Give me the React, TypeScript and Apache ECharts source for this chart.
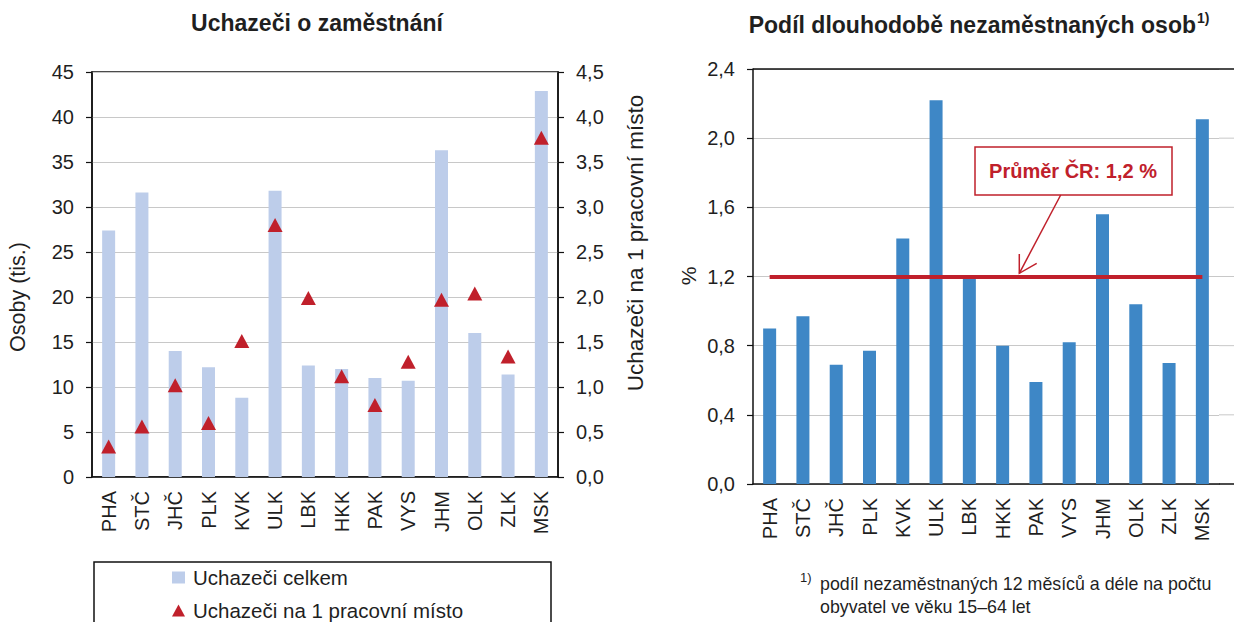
import React, { useEffect, useRef } from "react";
import * as echarts from "echarts";

const categories = ["PHA", "STČ", "JHČ", "PLK", "KVK", "ULK", "LBK", "HKK", "PAK", "VYS", "JHM", "OLK", "ZLK", "MSK"];
const uchazeciCelkem = [27.4, 31.6, 14.0, 12.2, 8.8, 31.8, 12.4, 12.0, 11.0, 10.7, 36.3, 16.0, 11.4, 42.9];
const uchazeciNaMisto = [0.34, 0.56, 1.02, 0.6, 1.51, 2.8, 1.99, 1.12, 0.8, 1.28, 1.97, 2.04, 1.34, 3.77];
const podilDlouhodobe = [0.9, 0.97, 0.69, 0.77, 1.42, 2.22, 1.2, 0.8, 0.59, 0.82, 1.56, 1.04, 0.7, 2.11];
const prumerCR = 1.2;
const rightTicks = [0.4, 0.8, 1.2, 1.6, 2.0, 2.4];

const FONT = "'Liberation Sans', Arial, sans-serif";
const TXT = "#1f1f1f";
const RED = "#c0202b";
const comma1 = (v: number) => v.toFixed(1).replace(".", ",");

export default function App() {
  const ref = useRef<HTMLDivElement>(null);
  useEffect(() => {
    document.body.style.margin = "0";
    const chart = echarts.init(ref.current!, undefined, { renderer: "svg" });
    const axisLine = { show: true, lineStyle: { color: "#111", width: 1.5 } };
    const tick = { show: true, length: 6, lineStyle: { color: "#111", width: 1.2 } };
    const lbl = { color: TXT, fontSize: 20, fontFamily: FONT, margin: 18 };
    const option: any = {
      animation: false,
      textStyle: { fontFamily: FONT },
      grid: [
        { left: 92, top: 72, width: 466, height: 405, show: true, borderColor: "#111", borderWidth: 1.5, backgroundColor: "transparent" },
        { left: 753, top: 69, width: 466, height: 415 },
      ],
      legend: {
        orient: "vertical",
        left: 172,
        top: 567,
        height: 120,
        padding: 0,
        itemWidth: 13,
        itemHeight: 12,
        itemGap: 12,
        textStyle: { color: TXT, fontSize: 20.5, fontFamily: FONT, padding: [0, 0, 0, 3] },
        data: [
          { name: "Uchazeči celkem", icon: "rect" },
          { name: "Uchazeči na 1 pracovní místo", icon: "triangle" },
        ],
      },
      xAxis: [
        {
          gridIndex: 0, type: "category", data: categories,
          axisLine, axisTick: { show: false },
          axisLabel: { ...lbl, rotate: 90, margin: 14 },
        },
        {
          gridIndex: 1, type: "category", data: categories,
          axisLine, axisTick: { show: false },
          axisLabel: { ...lbl, rotate: 90, margin: 14 },
        },
      ],
      yAxis: [
        {
          gridIndex: 0, type: "value", position: "left", min: 0, max: 45, interval: 5,
          axisLine, axisTick: tick, axisLabel: lbl,
          splitLine: { show: true, lineStyle: { color: "#c8c8c8", width: 1 } },
        },
        {
          gridIndex: 0, type: "value", position: "right", min: 0, max: 4.5, interval: 0.5,
          axisLine, axisTick: tick, axisLabel: { ...lbl, formatter: comma1 },
          splitLine: { show: false },
        },
        {
          gridIndex: 1, type: "value", position: "left", min: 0, max: 2.4, interval: 0.4,
          axisLine, axisTick: tick, axisLabel: { ...lbl, formatter: comma1 },
          splitLine: { show: true, lineStyle: { color: "#c8c8c8", width: 1 } },
        },
      ],
      series: [
        {
          name: "Uchazeči celkem", type: "bar", xAxisIndex: 0, yAxisIndex: 0,
          barWidth: 13, data: uchazeciCelkem, itemStyle: { color: "#bdcdea" },
        },
        {
          name: "Uchazeči na 1 pracovní místo", type: "scatter", xAxisIndex: 0, yAxisIndex: 1,
          symbol: "triangle", symbolSize: [15, 14], data: uchazeciNaMisto,
          itemStyle: { color: RED, opacity: 1 }, z: 5,
        },
        {
          name: "Podíl", type: "bar", xAxisIndex: 1, yAxisIndex: 2,
          barWidth: 13, data: podilDlouhodobe, itemStyle: { color: "#3e87c6" },
          markLine: {
            silent: true, symbol: "none", label: { show: false },
            lineStyle: { color: RED, width: 4, type: "solid" },
            data: [[{ coord: [categories[0], prumerCR] }, { coord: [categories[categories.length - 1], prumerCR] }]],
          },
        },
      ],
    };
    chart.setOption(option);

    // extend the right panel's top border, gridlines and baseline to the page edge
    const gx = chart.convertToPixel({ xAxisIndex: 1 }, categories[categories.length - 1]) as number;
    const rightEdge = gx + 233 / 14;
    const ext: any[] = [];
    rightTicks.forEach((v) => {
      const py = chart.convertToPixel({ yAxisIndex: 2 }, v) as number;
      const isTop = v === rightTicks[rightTicks.length - 1];
      ext.push({
        type: "line", shape: { x1: isTop ? 753 : rightEdge, y1: py, x2: 1234, y2: py },
        style: { stroke: isTop ? "#111" : "#c8c8c8", lineWidth: isTop ? 1.5 : 1 }, z: 1,
      });
    });
    const p0 = chart.convertToPixel({ yAxisIndex: 2 }, 0) as number;
    ext.push({ type: "line", shape: { x1: rightEdge, y1: p0, x2: 1234, y2: p0 }, style: { stroke: "#111", lineWidth: 1.5 } });

    const graphics: any[] = [
      ...ext,
      { type: "text", x: 317, y: 23, style: { text: "Uchazeči o zaměstnání", fontSize: 23, fontWeight: "bold", fontFamily: FONT, fill: TXT, textAlign: "center", textVerticalAlign: "middle" } },
      { type: "text", x: 1196, y: 25, style: { text: "Podíl dlouhodobě nezaměstnaných osob", fontSize: 23, fontWeight: "bold", fontFamily: FONT, fill: TXT, textAlign: "right", textVerticalAlign: "middle" } },
      { type: "text", x: 1197, y: 18, style: { text: "1)", fontSize: 14, fontWeight: "bold", fontFamily: FONT, fill: TXT, textAlign: "left", textVerticalAlign: "middle" } },
      { type: "text", x: 18, y: 297, rotation: Math.PI / 2, style: { text: "Osoby (tis.)", fontSize: 21.5, fontFamily: FONT, fill: TXT, textAlign: "center", textVerticalAlign: "middle" } },
      { type: "text", x: 635, y: 243, rotation: Math.PI / 2, style: { text: "Uchazeči na 1 pracovní místo", fontSize: 22.5, fontFamily: FONT, fill: TXT, textAlign: "center", textVerticalAlign: "middle" } },
      { type: "text", x: 688, y: 276, rotation: Math.PI / 2, style: { text: "%", fontSize: 21, fontFamily: FONT, fill: TXT, textAlign: "center", textVerticalAlign: "middle" } },
      { type: "rect", shape: { x: 94, y: 562, width: 457, height: 80 }, style: { fill: "none", stroke: "#111", lineWidth: 1.5 } },
      { type: "rect", shape: { x: 975, y: 147, width: 197, height: 48 }, style: { fill: "#fff", stroke: RED, lineWidth: 1.5 }, z: 10 },
      { type: "text", x: 1073, y: 171, z: 11, style: { text: "Průměr ČR: 1,2 %", fontSize: 20, fontWeight: "bold", fontFamily: FONT, fill: RED, textAlign: "center", textVerticalAlign: "middle" } },
      { type: "line", z: 11, shape: { x1: 1060.7, y1: 195, x2: 1019.3, y2: 273.3 }, style: { stroke: RED, lineWidth: 1.5 } },
      { type: "polyline", z: 11, shape: { points: [[1019.3, 254], [1019.3, 273.3], [1036.7, 263.3]] }, style: { fill: "none", stroke: RED, lineWidth: 1.5 } },
      { type: "text", x: 800, y: 577, style: { text: "1)", fontSize: 13, fontFamily: FONT, fill: TXT, textAlign: "left", textVerticalAlign: "middle" } },
      { type: "text", x: 820, y: 584, style: { text: "podíl nezaměstnaných 12 měsíců a déle na počtu", fontSize: 17.8, fontFamily: FONT, fill: TXT, textAlign: "left", textVerticalAlign: "middle" } },
      { type: "text", x: 820, y: 607, style: { text: "obyvatel ve věku 15–64 let", fontSize: 17.8, fontFamily: FONT, fill: TXT, textAlign: "left", textVerticalAlign: "middle" } },
    ];
    chart.setOption({ graphic: graphics });
    return () => chart.dispose();
  }, []);
  return <div ref={ref} style={{ width: 1234, height: 622 }} />;
}
